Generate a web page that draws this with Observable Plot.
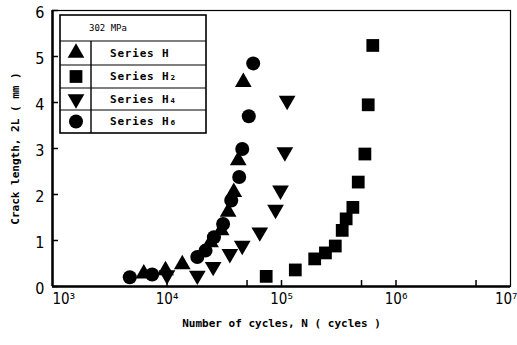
<!DOCTYPE html>
<html><head><meta charset="utf-8">
<script src="https://cdn.jsdelivr.net/npm/d3@7"></script>
<script src="https://cdn.jsdelivr.net/npm/@observablehq/plot@0.6"></script>
<style>body{margin:0;background:#fff}</style>
</head><body><div id="chart"></div>
<script>
// ---- data ----
const seriesNames = ["Series H", "Series H₂", "Series H₄", "Series H₆"];
const legendTitle = "302 MPa";
const xLabel = "Number of cycles, N ( cycles )";
const yLabel = "Crack length, 2L ( mm )";
const xTicks = [1e3, 1e4, 1e5, 1e6, 1e7];
const xTickLabels = ["10³", "10⁴", "10⁵", "10⁶", "10⁷"];
const xInnerTicks = [1e4, 5e4, 1e5, 5e5, 1e6, 5e6];
const yTicks = [0, 1, 2, 3, 4, 5, 6];

const hN  = [6270, 9700, 13600, 24000, 29700, 34200, 38300, 41900, 46400];
const hL  = [0.28, 0.35, 0.48, 0.96, 1.22, 1.62, 2.05, 2.74, 4.44];
const h2N = [73500, 132000, 195000, 242000, 295000, 339000, 367000, 420000, 468000, 535000, 572000, 627000];
const h2L = [0.22, 0.36, 0.60, 0.73, 0.88, 1.22, 1.47, 1.72, 2.27, 2.88, 3.95, 5.24];
const h4N = [10000, 18400, 25300, 35400, 45400, 64600, 88700, 98000, 107000, 112000];
const h4L = [0.25, 0.24, 0.43, 0.71, 0.89, 1.18, 1.67, 2.09, 2.92, 4.04];
const h6N = [4730, 7420, 18400, 21700, 25700, 30900, 36400, 42700, 45400, 51800, 56600];
const h6L = [0.20, 0.26, 0.64, 0.78, 1.07, 1.36, 1.87, 2.38, 2.99, 3.70, 4.85];

const rows = (N, L, s) => N.map((n, i) => ({N: n, L: L[i], s}));
const data = [
  ...rows(hN, hL, seriesNames[0]),
  ...rows(h2N, h2L, seriesNames[1]),
  ...rows(h4N, h4L, seriesNames[2]),
  ...rows(h6N, h6L, seriesNames[3])
];

const triDown = {
  draw(ctx, size) {
    const s3 = Math.sqrt(3);
    const y = -Math.sqrt(size / (s3 * 3));
    ctx.moveTo(0, -y * 2);
    ctx.lineTo(-s3 * y, y);
    ctx.lineTo(s3 * y, y);
    ctx.closePath();
  }
};
const symbolOf = {
  [seriesNames[0]]: d3.symbolTriangle,
  [seriesNames[1]]: d3.symbolSquare,
  [seriesNames[2]]: triDown,
  [seriesNames[3]]: d3.symbolCircle
};
const rOf = {[seriesNames[0]]: 6.2, [seriesNames[1]]: 7.2, [seriesNames[2]]: 6.2, [seriesNames[3]]: 7};

const W = 517, H = 345, mL = 52, mR = 7, mT = 10, mB = 59;
const mono = "DejaVu Sans Mono";
const cond = "DejaVu Sans Condensed";
const lastX = xTicks.length - 1;
const xLabelStyle = {frameAnchor: "bottom", dy: 7, lineAnchor: "top", fontSize: 15, fontFamily: cond, fill: "#000"};

const plot = Plot.plot({
  width: W, height: H,
  marginLeft: mL, marginRight: mR, marginTop: mT, marginBottom: mB,
  style: {background: "#fff", color: "#000"},
  x: {type: "log", domain: [1e3, 1e7], axis: null},
  y: {domain: [0, 6], axis: null},
  marks: [
    Plot.frame({stroke: "#000", strokeWidth: 1.2}),
    Plot.ruleY([0], {stroke: "#000", strokeWidth: 2.5}),
    Plot.ruleX([1e3], {stroke: "#000", strokeWidth: 2.5}),
    Plot.tickY(yTicks, {y: d => d, stroke: "#000", strokeWidth: 1.5, insetRight: W - mL - mR - 6}),
    Plot.tickX(xInnerTicks, {x: d => d, stroke: "#000", strokeWidth: 1.5, insetTop: H - mT - mB - 6}),
    Plot.text([xTicks[0]], {x: d => d, ...xLabelStyle, textAnchor: "start", dx: 0, text: () => xTickLabels[0]}),
    Plot.text(xTicks.slice(1, lastX), {x: d => d, ...xLabelStyle, textAnchor: "middle",
      text: d => xTickLabels[xTicks.indexOf(d)]}),
    Plot.text([xTicks[lastX]], {x: d => d, ...xLabelStyle, textAnchor: "end", dx: 7, text: () => xTickLabels[lastX]}),
    Plot.text(yTicks, {y: d => d, frameAnchor: "left", dx: -8, dy: 2, textAnchor: "end", fontSize: 16,
      fontFamily: cond, fill: "#000", text: d => String(d)}),
    ...seriesNames.map(s => Plot.dot(data.filter(d => d.s === s), {
      x: "N", y: "L", symbol: () => symbolOf[s], r: rOf[s], fill: "#000", stroke: "none"
    })),
    Plot.text([xLabel], {frameAnchor: "bottom", dy: 40, textAnchor: "middle", fontSize: 11, fontFamily: mono, fontWeight: "bold", fill: "#000"}),
    Plot.text([yLabel], {frameAnchor: "left", dx: -37, rotate: -90, textAnchor: "middle", fontSize: 11, fontFamily: mono, fontWeight: "bold", fill: "#000"})
  ]
});

// ---- legend table ----
const svg = d3.select(plot);
const g = svg.append("g").attr("font-family", mono).attr("font-weight", "bold").attr("fill", "#000");
const bx = 60, by = 15, bw = 146, bh = 118, div = 91;
const rowEdges = [15, 41, 65, 88, 110, 133];
g.append("rect").attr("x", bx).attr("y", by).attr("width", bw).attr("height", bh)
  .attr("fill", "#fff").attr("stroke", "#000").attr("stroke-width", 1.6);
rowEdges.slice(1, -1).forEach(y => g.append("line").attr("x1", bx).attr("x2", bx + bw).attr("y1", y).attr("y2", y)
  .attr("stroke", "#000").attr("stroke-width", 1.2));
g.append("line").attr("x1", div).attr("x2", div).attr("y1", rowEdges[1]).attr("y2", by + bh)
  .attr("stroke", "#000").attr("stroke-width", 1.4);
g.append("text").attr("x", 108).attr("y", (rowEdges[0] + rowEdges[1]) / 2).attr("dy", "0.35em")
  .attr("text-anchor", "middle").attr("font-size", 9).attr("font-weight", "normal").text(legendTitle);
seriesNames.forEach((s, i) => {
  const cy = (rowEdges[i + 1] + rowEdges[i + 2]) / 2;
  const r = rOf[s];
  g.append("path").attr("transform", `translate(76,${cy})`)
    .attr("d", d3.symbol(symbolOf[s], Math.PI * r * r)());
  g.append("text").attr("x", 110).attr("y", cy).attr("dy", "0.35em").attr("font-size", 11)
    .attr("text-anchor", "start").attr("letter-spacing", 0.8).text(s);
});

document.getElementById("chart").appendChild(plot);
</script>
</body></html>
